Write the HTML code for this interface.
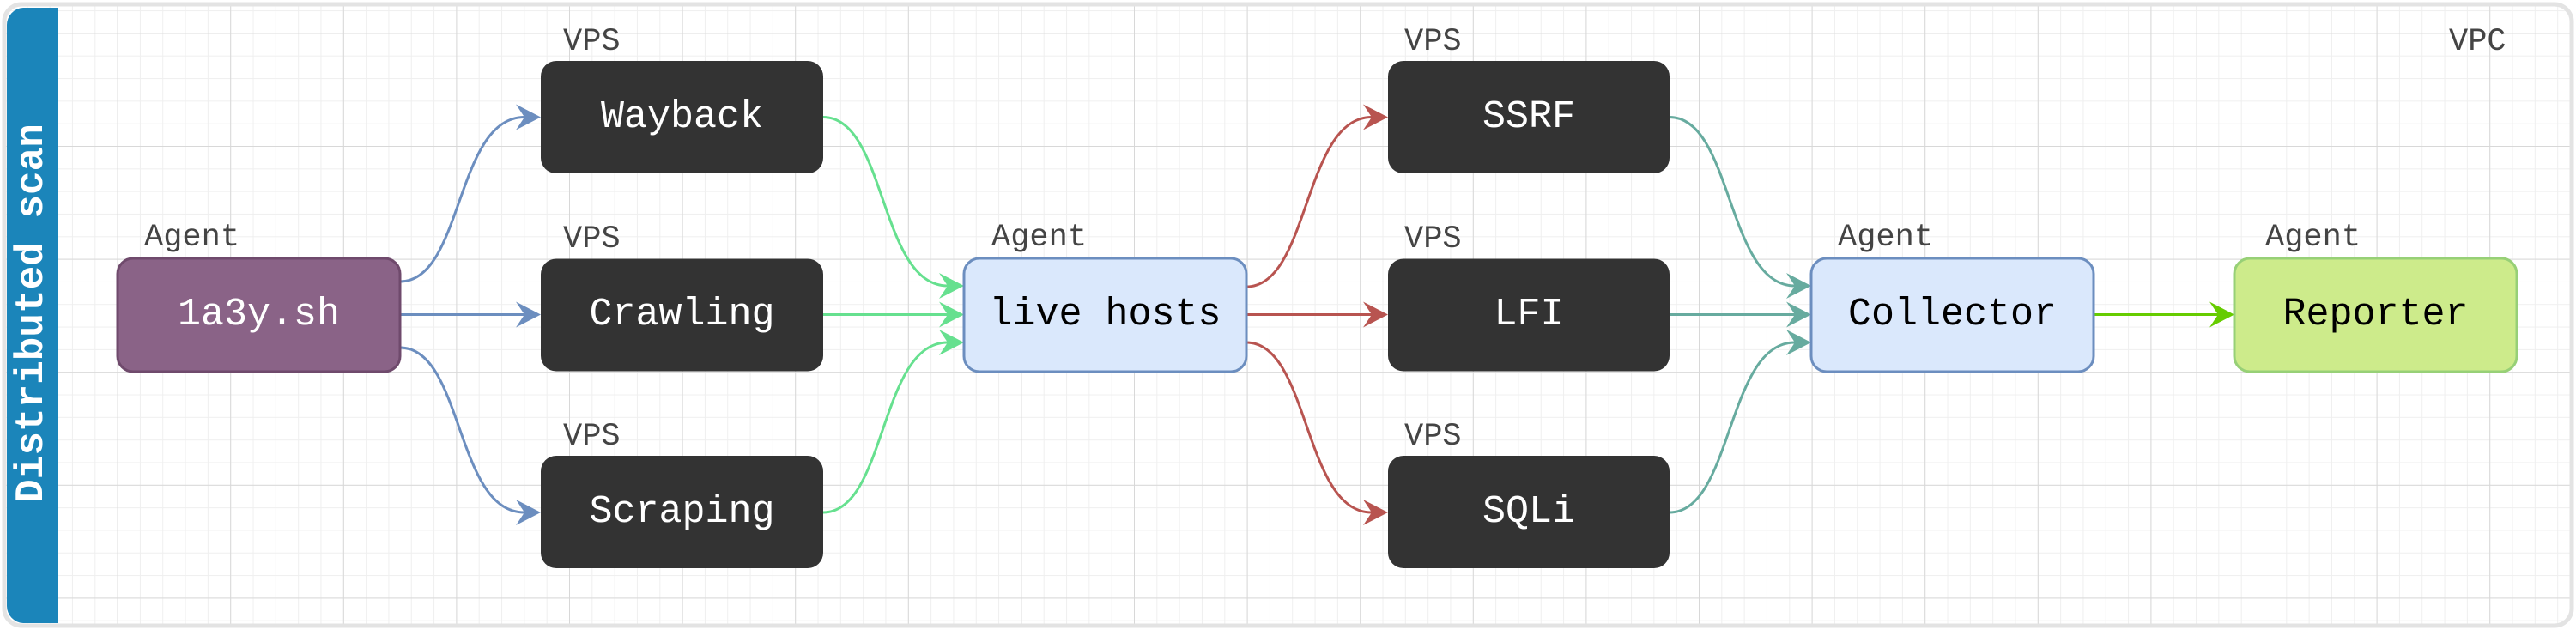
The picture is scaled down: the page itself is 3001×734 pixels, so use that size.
<!DOCTYPE html>
<html><head><meta charset="utf-8"><style>
html,body{margin:0;padding:0;background:#fff;}
svg{display:block;}
text{font-family:"Liberation Mono","Courier New",monospace;}
</style></head><body>
<svg width="3001" height="734" viewBox="0 0 3001 734" xmlns="http://www.w3.org/2000/svg">
<defs>
<pattern id="minor" x="5" y="38.4" width="26.32" height="26.32" patternUnits="userSpaceOnUse">
<path d="M0 0H26.32M0 0V26.32" stroke="#efefef" stroke-width="2" fill="none"/>
</pattern>
<pattern id="major" x="5" y="38.4" width="131.6" height="131.6" patternUnits="userSpaceOnUse">
<path d="M0 0H131.6M0 0V131.6" stroke="#d8d8d8" stroke-width="2" fill="none"/>
</pattern>
<clipPath id="cl"><rect x="5" y="5" width="2991" height="724" rx="20"/></clipPath>
</defs>
<rect width="3001" height="734" fill="#fff"/>
<g clip-path="url(#cl)">
<rect x="0" y="0" width="3001" height="734" fill="url(#minor)"/>
<rect x="0" y="0" width="3001" height="734" fill="url(#major)"/>
</g>
<rect x="5" y="5" width="2991" height="724" rx="20" fill="none" stroke="#e3e3e3" stroke-width="5"/>
<path d="M67 9 H27 A20 20 0 0 0 8 29 V706 A20 20 0 0 0 27 726 H67 Z" fill="#1b85ba"/>
<text x="0" y="0" transform="translate(37,365) rotate(-90)" text-anchor="middle" dominant-baseline="central" font-size="46" font-weight="bold" fill="#fff">Distributed scan</text>

<g fill="none" stroke-width="3">
<g stroke="#6c8ebf">
<path d="M466 328 C540 328 530 136.5 611 136.5"/>
<path d="M466 366.5 H611"/>
<path d="M466 405 C540 405 530 597 611 597"/>
</g>
<g stroke="#66e08f">
<path d="M959 136.5 C1033 136.5 1024 333 1104 333"/>
<path d="M959 366.5 H1104"/>
<path d="M959 597 C1033 597 1024 399 1104 399"/>
</g>
<g stroke="#b85450">
<path d="M1452 334 C1526 334 1518 136.5 1598 136.5"/>
<path d="M1452 366.5 H1598"/>
<path d="M1452 399 C1526 399 1518 597 1598 597"/>
</g>
<g stroke="#67ab9f">
<path d="M1945 136.5 C2019 136.5 2011 333 2091 333"/>
<path d="M1945 366.5 H2091"/>
<path d="M1945 597 C2019 597 2011 399 2091 399"/>
</g>
<path d="M2439 366.5 H2584" stroke="#66cc00"/>
</g>

<g fill="#6c8ebf">
<path d="M630 136.5 l-29 -15 l10 15 l-10 15 z"/>
<path d="M630 366.5 l-29 -15 l10 15 l-10 15 z"/>
<path d="M630 597 l-29 -15 l10 15 l-10 15 z"/>
</g>
<g fill="#66e08f">
<path d="M1123 333 l-29 -15 l10 15 l-10 15 z"/>
<path d="M1123 366.5 l-29 -15 l10 15 l-10 15 z"/>
<path d="M1123 399 l-29 -15 l10 15 l-10 15 z"/>
</g>
<g fill="#b85450">
<path d="M1617 136.5 l-29 -15 l10 15 l-10 15 z"/>
<path d="M1617 366.5 l-29 -15 l10 15 l-10 15 z"/>
<path d="M1617 597 l-29 -15 l10 15 l-10 15 z"/>
</g>
<g fill="#67ab9f">
<path d="M2110 333 l-29 -15 l10 15 l-10 15 z"/>
<path d="M2110 366.5 l-29 -15 l10 15 l-10 15 z"/>
<path d="M2110 399 l-29 -15 l10 15 l-10 15 z"/>
</g>
<path d="M2603 366.5 l-29 -15 l10 15 l-10 15 z" fill="#66cc00"/>

<rect x="137" y="301" width="329" height="132" rx="18" fill="#8a6387" stroke="#6f4a6c" stroke-width="3"/>
<rect x="630" y="71" width="329" height="131" rx="18" fill="#333"/>
<rect x="630" y="301.5" width="329" height="131" rx="18" fill="#333"/>
<rect x="630" y="531" width="329" height="131" rx="18" fill="#333"/>
<rect x="1123" y="301" width="329" height="132" rx="18" fill="#dae8fc" stroke="#6c8ebf" stroke-width="3"/>
<rect x="1617" y="71" width="328" height="131" rx="18" fill="#333"/>
<rect x="1617" y="301.5" width="328" height="131" rx="18" fill="#333"/>
<rect x="1617" y="531" width="328" height="131" rx="18" fill="#333"/>
<rect x="2110" y="301" width="329" height="132" rx="18" fill="#dae8fc" stroke="#6c8ebf" stroke-width="3"/>
<rect x="2603" y="301" width="329" height="132" rx="18" fill="#cdeb8b" stroke="#97d077" stroke-width="3"/>

<g font-size="45" text-anchor="middle" dominant-baseline="central">
<text x="301.5" y="366.5" fill="#fff">1a3y.sh</text>
<text x="794.5" y="136.5" fill="#fff">Wayback</text>
<text x="794.5" y="366.5" fill="#fff">Crawling</text>
<text x="794.5" y="596.5" fill="#fff">Scraping</text>
<text x="1287.5" y="366.5" fill="#000">live hosts</text>
<text x="1781" y="136.5" fill="#fff">SSRF</text>
<text x="1781" y="366.5" fill="#fff">LFI</text>
<text x="1781" y="596.5" fill="#fff">SQLi</text>
<text x="2274.5" y="366.5" fill="#000">Collector</text>
<text x="2767.5" y="366.5" fill="#000">Reporter</text>
</g>
<g font-size="37" fill="#444">
<text x="168" y="286">Agent</text>
<text x="656" y="58">VPS</text>
<text x="656" y="288">VPS</text>
<text x="656" y="518">VPS</text>
<text x="1155" y="286">Agent</text>
<text x="1636" y="58">VPS</text>
<text x="1636" y="288">VPS</text>
<text x="1636" y="518">VPS</text>
<text x="2141" y="286">Agent</text>
<text x="2639" y="286">Agent</text>
<text x="2853" y="58">VPC</text>
</g>
</svg>
</body></html>
